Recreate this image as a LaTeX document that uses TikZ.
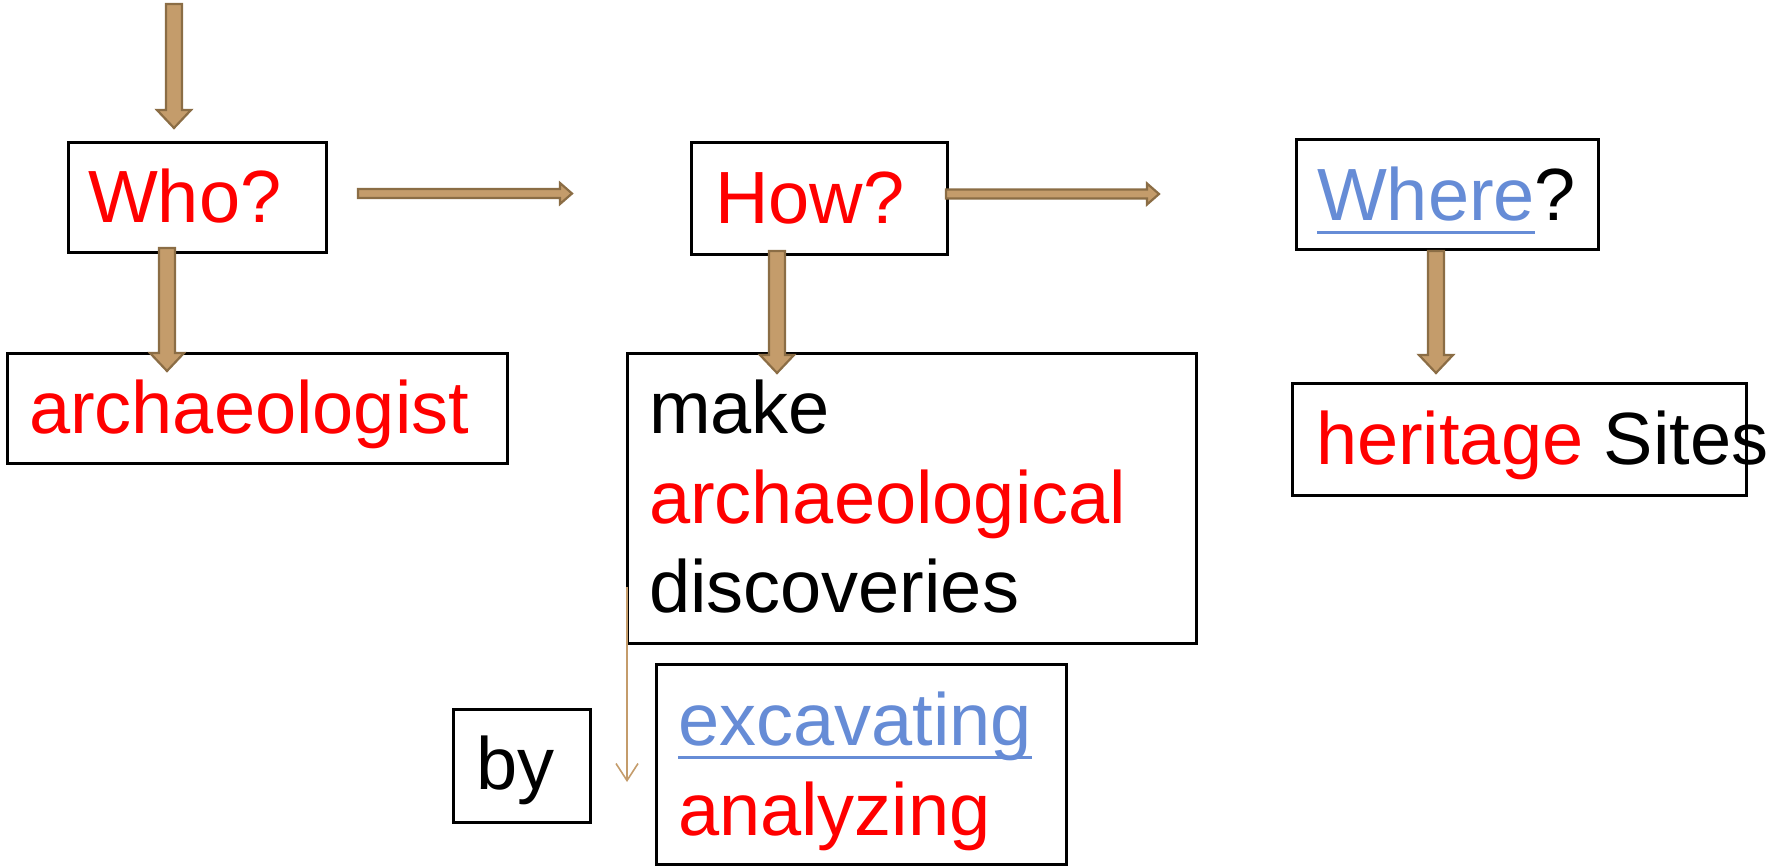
\documentclass[tikz,border=0pt]{standalone}
\usepackage{fontspec}
\setmainfont{Liberation Sans}
\usetikzlibrary{calc,arrows.meta}
\definecolor{tanfill}{HTML}{C49C6B}
\definecolor{tanedge}{HTML}{8B6D45}
\definecolor{ured}{HTML}{FF0000}
\definecolor{ublue}{HTML}{668CD6}
\newcommand{\ulword}[1]{\setbox0\hbox{#1}\rlap{\raisebox{-13.5pt}{\rule{\wd0}{3pt}}}\box0}
\newcommand{\vblock}[2]{\draw[blockarrow] let \p1=#1, \p2=#2 in (\x1-8pt,\y1) -- (\x1+8pt,\y1) -- (\x1+8pt,\y2+18pt) -- (\x1+17pt,\y2+18pt) -- (\x1,\y2) -- (\x1-17pt,\y2+18pt) -- (\x1-8pt,\y2+18pt) -- cycle;}
\newcommand{\hblock}[2]{\draw[blockarrow] let \p1=#1, \p2=#2 in (\x1,\y1+4.5pt) -- (\x2-12pt,\y1+4.5pt) -- (\x2-12pt,\y1+10.5pt) -- (\x2,\y1) -- (\x2-12pt,\y1-10.5pt) -- (\x2-12pt,\y1-4.5pt) -- (\x1,\y1-4.5pt) -- cycle;}
\begin{document}
\begin{tikzpicture}[x=1pt,y=-1pt,
  every node/.style={font=\fontsize{74pt}{88pt}\selectfont, inner sep=0pt, outer sep=0pt},
  box/.style={draw=black, line width=3pt, anchor=north west},
  txt/.style={anchor=base west},
  blockarrow/.style={fill=tanfill, draw=tanedge, line width=2.2pt, line join=miter},
  thinarrow/.style={draw=tanfill, line width=1.6pt, -{Straight Barb[length=17pt,width=22pt,line width=1.6pt]}}]
\useasboundingbox (0,0) rectangle (1769,865);
% boxes
\node[box, minimum width=258pt, minimum height=110pt] (who) at (68,142) {};
\node[box, minimum width=500pt, minimum height=110pt] (arch) at (7,353) {};
\node[box, minimum width=256pt, minimum height=112pt] (how) at (691,142) {};
\node[box, minimum width=569pt, minimum height=290pt] (make) at (627,353) {};
\node[box, minimum width=302pt, minimum height=110pt] (where) at (1296,139) {};
\node[box, minimum width=454pt, minimum height=112pt] (herit) at (1292,383) {};
\node[box, minimum width=137pt, minimum height=113pt] (by) at (453,709) {};
\node[box, minimum width=410pt, minimum height=200pt] (exc) at (656,664) {};
% texts
\node[txt] (whot) at (88,222) {\textcolor{ured}{Who?}};
\node[txt] (archt) at (29,433) {\textcolor{ured}{archaeologist}};
\node[txt] (howt) at (715,223) {\textcolor{ured}{How?}};
\node[txt] (make1) at (649,433) {make};
\node[txt] (make2) at (649,523) {\textcolor{ured}{archaeological}};
\node[txt] (make3) at (649,612) {discoveries};
\node[txt] (wheret) at (1317,220) {\textcolor{ublue}{\ulword{Where}}?};
\node[txt] (heritt) at (1316,464) {\textcolor{ured}{heritage} Sites};
\node[txt] (byt) at (476,789) {by};
\node[txt] (exc1) at (678,745) {\textcolor{ublue}{\ulword{excavating}}};
\node[txt] (exc2) at (678,835) {\textcolor{ured}{analyzing}};
% connectors
\coordinate (topstart) at (174,4);
\vblock{(topstart)}{($(topstart |- who.north)+(0,-14)$)}
\coordinate (whoout) at ($(who.south west)+(99,-4)$);
\vblock{(whoout)}{($(whoout |- arch.north)+(0,18)$)}
\coordinate (howout) at ($(how.south west)+(86,-3)$);
\vblock{(howout)}{($(howout |- make.north)+(0,20)$)}
\coordinate (whereout) at ($(where.south west)+(140,2)$);
\vblock{(whereout)}{($(whereout |- herit.north)+(0,-10)$)}
\coordinate (whoright) at ($(who.east)+(32,-3.5)$);
\hblock{(whoright)}{($(whoright -| how.west)+(-119,0)$)}
\coordinate (howright) at ($(how.east)+(-1,-4)$);
\hblock{(howright)}{($(howright -| where.west)+(-137,0)$)}
\coordinate (bystart) at ($(make.south west)+(0,-56)$);
\coordinate (bytip) at ($(make.south west)+(0,139)$);
\draw[thinarrow] (bystart) -- (bytip);
\end{tikzpicture}
\end{document}
